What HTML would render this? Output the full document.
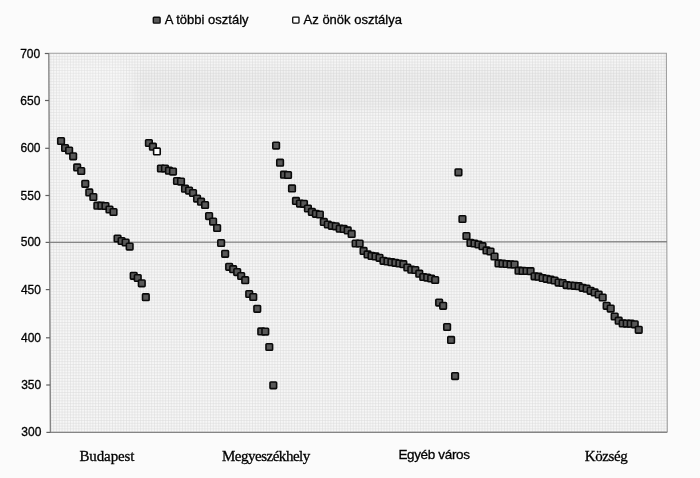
<!DOCTYPE html>
<html><head><meta charset="utf-8"><style>
html,body{margin:0;padding:0;background:#fbfbfb;}
body{width:700px;height:478px;position:relative;overflow:hidden;font-family:"Liberation Sans",sans-serif;color:#000;}
.t{position:absolute;white-space:nowrap;line-height:1;-webkit-text-stroke:0.3px #000;}
.y{font-family:"Liberation Sans",sans-serif;font-size:12px;}
.c{font-family:"Liberation Serif",serif;font-size:15px;}
.l{font-family:"Liberation Sans",sans-serif;font-size:13px;}
svg{position:absolute;left:0;top:0;}
</style></head><body>
<div id="w" style="position:absolute;left:0;top:0;width:700px;height:478px;filter:blur(0.35px)">
<svg width="700" height="478" viewBox="0 0 700 478">
<defs>
<pattern id="g" width="2.8" height="2.8" patternUnits="userSpaceOnUse">
<rect width="2.8" height="2.8" fill="#f6f6f6"/>
<rect width="2.8" height="0.5" fill="#dadada"/>
<rect width="0.5" height="2.8" fill="#dadada"/>
</pattern>
<filter id="bl" x="-20%" y="-50%" width="140%" height="200%"><feGaussianBlur stdDeviation="5"/></filter>
</defs>
<polygon points="48.8,53.2 666.4,53.2 667.3,432.3 50.4,432.4" fill="url(#g)"/>
<g filter="url(#bl)"><rect x="136" y="68" width="525" height="42" fill="#000" opacity="0.024"/>
<rect x="56" y="60" width="68" height="170" fill="#fff" opacity="0.14"/></g>
<path d="M48.8 53.2L666.4 53.2L667.3 432.3" fill="none" stroke="#a0a0a0" stroke-width="1.1"/>
<line x1="49.5" y1="242.4" x2="667" y2="241.7" stroke="#858585" stroke-width="1.4"/>
<path d="M48.8 53.2L50.4 432.4L667.3 432.3" fill="none" stroke="#858585" stroke-width="1.4"/>
<g stroke="#606060" stroke-width="1.2">
<line x1="44.8" y1="53.5" x2="48.8" y2="53.5"/>
<line x1="45.0" y1="100.5" x2="49.0" y2="100.5"/>
<line x1="45.2" y1="148.3" x2="49.2" y2="148.3"/>
<line x1="45.4" y1="195.5" x2="49.4" y2="195.5"/>
<line x1="45.6" y1="242.4" x2="49.6" y2="242.4"/>
<line x1="45.8" y1="289.6" x2="49.8" y2="289.6"/>
<line x1="46.0" y1="337.8" x2="50.0" y2="337.8"/>
<line x1="46.2" y1="385.0" x2="50.2" y2="385.0"/>
<line x1="46.4" y1="432.4" x2="50.4" y2="432.4"/>
</g>
<g stroke="#0a0a0a" stroke-width="1.6">
<rect x="57.75" y="137.70" width="6.6" height="6.6" rx="0.8" fill="#585858"/>
<rect x="61.79" y="144.70" width="6.6" height="6.6" rx="0.8" fill="#585858"/>
<rect x="65.82" y="147.20" width="6.6" height="6.6" rx="0.8" fill="#585858"/>
<rect x="69.86" y="153.00" width="6.6" height="6.6" rx="0.8" fill="#585858"/>
<rect x="73.89" y="164.10" width="6.6" height="6.6" rx="0.8" fill="#585858"/>
<rect x="77.93" y="167.70" width="6.6" height="6.6" rx="0.8" fill="#585858"/>
<rect x="81.97" y="180.50" width="6.6" height="6.6" rx="0.8" fill="#585858"/>
<rect x="86.00" y="189.10" width="6.6" height="6.6" rx="0.8" fill="#585858"/>
<rect x="90.04" y="193.70" width="6.6" height="6.6" rx="0.8" fill="#585858"/>
<rect x="94.07" y="202.40" width="6.6" height="6.6" rx="0.8" fill="#585858"/>
<rect x="98.11" y="202.40" width="6.6" height="6.6" rx="0.8" fill="#585858"/>
<rect x="102.15" y="202.70" width="6.6" height="6.6" rx="0.8" fill="#585858"/>
<rect x="106.18" y="206.20" width="6.6" height="6.6" rx="0.8" fill="#585858"/>
<rect x="110.22" y="208.70" width="6.6" height="6.6" rx="0.8" fill="#585858"/>
<rect x="114.25" y="235.20" width="6.6" height="6.6" rx="0.8" fill="#585858"/>
<rect x="118.29" y="237.70" width="6.6" height="6.6" rx="0.8" fill="#585858"/>
<rect x="122.33" y="239.20" width="6.6" height="6.6" rx="0.8" fill="#585858"/>
<rect x="126.36" y="243.30" width="6.6" height="6.6" rx="0.8" fill="#585858"/>
<rect x="130.40" y="272.50" width="6.6" height="6.6" rx="0.8" fill="#585858"/>
<rect x="134.43" y="274.70" width="6.6" height="6.6" rx="0.8" fill="#585858"/>
<rect x="138.47" y="280.00" width="6.6" height="6.6" rx="0.8" fill="#585858"/>
<rect x="142.51" y="293.90" width="6.6" height="6.6" rx="0.8" fill="#585858"/>
<rect x="145.60" y="139.70" width="6.6" height="6.6" rx="0.8" fill="#585858"/>
<rect x="149.61" y="143.40" width="6.6" height="6.6" rx="0.8" fill="#585858"/>
<rect x="153.63" y="148.10" width="6.6" height="6.6" rx="0.8" fill="#fff"/>
<rect x="157.64" y="165.20" width="6.6" height="6.6" rx="0.8" fill="#585858"/>
<rect x="161.65" y="165.20" width="6.6" height="6.6" rx="0.8" fill="#585858"/>
<rect x="165.66" y="167.40" width="6.6" height="6.6" rx="0.8" fill="#585858"/>
<rect x="169.68" y="168.30" width="6.6" height="6.6" rx="0.8" fill="#585858"/>
<rect x="173.69" y="177.70" width="6.6" height="6.6" rx="0.8" fill="#585858"/>
<rect x="177.70" y="178.30" width="6.6" height="6.6" rx="0.8" fill="#585858"/>
<rect x="181.72" y="185.40" width="6.6" height="6.6" rx="0.8" fill="#585858"/>
<rect x="185.73" y="187.30" width="6.6" height="6.6" rx="0.8" fill="#585858"/>
<rect x="189.74" y="189.70" width="6.6" height="6.6" rx="0.8" fill="#585858"/>
<rect x="193.76" y="195.30" width="6.6" height="6.6" rx="0.8" fill="#585858"/>
<rect x="197.77" y="198.40" width="6.6" height="6.6" rx="0.8" fill="#585858"/>
<rect x="201.78" y="201.70" width="6.6" height="6.6" rx="0.8" fill="#585858"/>
<rect x="205.79" y="212.80" width="6.6" height="6.6" rx="0.8" fill="#585858"/>
<rect x="209.81" y="218.30" width="6.6" height="6.6" rx="0.8" fill="#585858"/>
<rect x="213.82" y="224.70" width="6.6" height="6.6" rx="0.8" fill="#585858"/>
<rect x="217.83" y="239.70" width="6.6" height="6.6" rx="0.8" fill="#585858"/>
<rect x="221.85" y="250.50" width="6.6" height="6.6" rx="0.8" fill="#585858"/>
<rect x="225.86" y="263.50" width="6.6" height="6.6" rx="0.8" fill="#585858"/>
<rect x="229.87" y="265.90" width="6.6" height="6.6" rx="0.8" fill="#585858"/>
<rect x="233.89" y="268.80" width="6.6" height="6.6" rx="0.8" fill="#585858"/>
<rect x="237.90" y="272.70" width="6.6" height="6.6" rx="0.8" fill="#585858"/>
<rect x="241.91" y="276.90" width="6.6" height="6.6" rx="0.8" fill="#585858"/>
<rect x="245.93" y="290.70" width="6.6" height="6.6" rx="0.8" fill="#585858"/>
<rect x="249.94" y="293.70" width="6.6" height="6.6" rx="0.8" fill="#585858"/>
<rect x="253.95" y="305.50" width="6.6" height="6.6" rx="0.8" fill="#585858"/>
<rect x="257.96" y="328.10" width="6.6" height="6.6" rx="0.8" fill="#585858"/>
<rect x="261.98" y="328.30" width="6.6" height="6.6" rx="0.8" fill="#585858"/>
<rect x="265.99" y="343.70" width="6.6" height="6.6" rx="0.8" fill="#585858"/>
<rect x="270.00" y="382.00" width="6.6" height="6.6" rx="0.8" fill="#585858"/>
<rect x="272.80" y="142.30" width="6.6" height="6.6" rx="0.8" fill="#585858"/>
<rect x="276.78" y="159.40" width="6.6" height="6.6" rx="0.8" fill="#585858"/>
<rect x="280.75" y="171.40" width="6.6" height="6.6" rx="0.8" fill="#585858"/>
<rect x="284.73" y="171.70" width="6.6" height="6.6" rx="0.8" fill="#585858"/>
<rect x="288.71" y="185.10" width="6.6" height="6.6" rx="0.8" fill="#585858"/>
<rect x="292.69" y="197.60" width="6.6" height="6.6" rx="0.8" fill="#585858"/>
<rect x="296.66" y="200.30" width="6.6" height="6.6" rx="0.8" fill="#585858"/>
<rect x="300.64" y="200.50" width="6.6" height="6.6" rx="0.8" fill="#585858"/>
<rect x="304.62" y="205.20" width="6.6" height="6.6" rx="0.8" fill="#585858"/>
<rect x="308.59" y="208.60" width="6.6" height="6.6" rx="0.8" fill="#585858"/>
<rect x="312.57" y="210.50" width="6.6" height="6.6" rx="0.8" fill="#585858"/>
<rect x="316.55" y="211.20" width="6.6" height="6.6" rx="0.8" fill="#585858"/>
<rect x="320.52" y="218.60" width="6.6" height="6.6" rx="0.8" fill="#585858"/>
<rect x="324.50" y="221.20" width="6.6" height="6.6" rx="0.8" fill="#585858"/>
<rect x="328.48" y="222.50" width="6.6" height="6.6" rx="0.8" fill="#585858"/>
<rect x="332.45" y="223.00" width="6.6" height="6.6" rx="0.8" fill="#585858"/>
<rect x="336.43" y="225.40" width="6.6" height="6.6" rx="0.8" fill="#585858"/>
<rect x="340.41" y="225.60" width="6.6" height="6.6" rx="0.8" fill="#585858"/>
<rect x="344.39" y="227.10" width="6.6" height="6.6" rx="0.8" fill="#585858"/>
<rect x="348.36" y="230.60" width="6.6" height="6.6" rx="0.8" fill="#585858"/>
<rect x="352.34" y="240.20" width="6.6" height="6.6" rx="0.8" fill="#585858"/>
<rect x="356.32" y="240.20" width="6.6" height="6.6" rx="0.8" fill="#585858"/>
<rect x="360.29" y="247.60" width="6.6" height="6.6" rx="0.8" fill="#585858"/>
<rect x="364.27" y="251.10" width="6.6" height="6.6" rx="0.8" fill="#585858"/>
<rect x="368.25" y="252.60" width="6.6" height="6.6" rx="0.8" fill="#585858"/>
<rect x="372.23" y="253.10" width="6.6" height="6.6" rx="0.8" fill="#585858"/>
<rect x="376.20" y="254.50" width="6.6" height="6.6" rx="0.8" fill="#585858"/>
<rect x="380.18" y="257.50" width="6.6" height="6.6" rx="0.8" fill="#585858"/>
<rect x="384.16" y="258.20" width="6.6" height="6.6" rx="0.8" fill="#585858"/>
<rect x="388.13" y="258.90" width="6.6" height="6.6" rx="0.8" fill="#585858"/>
<rect x="392.11" y="259.50" width="6.6" height="6.6" rx="0.8" fill="#585858"/>
<rect x="396.09" y="260.20" width="6.6" height="6.6" rx="0.8" fill="#585858"/>
<rect x="400.06" y="260.90" width="6.6" height="6.6" rx="0.8" fill="#585858"/>
<rect x="404.04" y="264.20" width="6.6" height="6.6" rx="0.8" fill="#585858"/>
<rect x="408.02" y="266.40" width="6.6" height="6.6" rx="0.8" fill="#585858"/>
<rect x="412.00" y="266.70" width="6.6" height="6.6" rx="0.8" fill="#585858"/>
<rect x="415.97" y="270.40" width="6.6" height="6.6" rx="0.8" fill="#585858"/>
<rect x="419.95" y="273.70" width="6.6" height="6.6" rx="0.8" fill="#585858"/>
<rect x="423.93" y="274.30" width="6.6" height="6.6" rx="0.8" fill="#585858"/>
<rect x="427.90" y="275.20" width="6.6" height="6.6" rx="0.8" fill="#585858"/>
<rect x="431.88" y="276.70" width="6.6" height="6.6" rx="0.8" fill="#585858"/>
<rect x="435.86" y="299.30" width="6.6" height="6.6" rx="0.8" fill="#585858"/>
<rect x="439.83" y="302.50" width="6.6" height="6.6" rx="0.8" fill="#585858"/>
<rect x="443.81" y="323.70" width="6.6" height="6.6" rx="0.8" fill="#585858"/>
<rect x="447.79" y="336.60" width="6.6" height="6.6" rx="0.8" fill="#585858"/>
<rect x="451.77" y="372.80" width="6.6" height="6.6" rx="0.8" fill="#585858"/>
<rect x="455.15" y="169.00" width="6.6" height="6.6" rx="0.8" fill="#585858"/>
<rect x="459.16" y="215.70" width="6.6" height="6.6" rx="0.8" fill="#585858"/>
<rect x="463.16" y="232.70" width="6.6" height="6.6" rx="0.8" fill="#585858"/>
<rect x="467.17" y="239.60" width="6.6" height="6.6" rx="0.8" fill="#585858"/>
<rect x="471.17" y="240.20" width="6.6" height="6.6" rx="0.8" fill="#585858"/>
<rect x="475.18" y="241.20" width="6.6" height="6.6" rx="0.8" fill="#585858"/>
<rect x="479.19" y="242.90" width="6.6" height="6.6" rx="0.8" fill="#585858"/>
<rect x="483.19" y="247.10" width="6.6" height="6.6" rx="0.8" fill="#585858"/>
<rect x="487.20" y="248.20" width="6.6" height="6.6" rx="0.8" fill="#585858"/>
<rect x="491.20" y="253.20" width="6.6" height="6.6" rx="0.8" fill="#585858"/>
<rect x="495.21" y="260.10" width="6.6" height="6.6" rx="0.8" fill="#585858"/>
<rect x="499.22" y="260.40" width="6.6" height="6.6" rx="0.8" fill="#585858"/>
<rect x="503.22" y="260.70" width="6.6" height="6.6" rx="0.8" fill="#585858"/>
<rect x="507.23" y="261.10" width="6.6" height="6.6" rx="0.8" fill="#585858"/>
<rect x="511.23" y="261.20" width="6.6" height="6.6" rx="0.8" fill="#585858"/>
<rect x="515.24" y="267.40" width="6.6" height="6.6" rx="0.8" fill="#585858"/>
<rect x="519.25" y="267.60" width="6.6" height="6.6" rx="0.8" fill="#585858"/>
<rect x="523.25" y="267.70" width="6.6" height="6.6" rx="0.8" fill="#585858"/>
<rect x="527.26" y="267.90" width="6.6" height="6.6" rx="0.8" fill="#585858"/>
<rect x="531.26" y="273.00" width="6.6" height="6.6" rx="0.8" fill="#585858"/>
<rect x="535.27" y="273.40" width="6.6" height="6.6" rx="0.8" fill="#585858"/>
<rect x="539.28" y="274.70" width="6.6" height="6.6" rx="0.8" fill="#585858"/>
<rect x="543.28" y="275.50" width="6.6" height="6.6" rx="0.8" fill="#585858"/>
<rect x="547.29" y="276.40" width="6.6" height="6.6" rx="0.8" fill="#585858"/>
<rect x="551.29" y="277.20" width="6.6" height="6.6" rx="0.8" fill="#585858"/>
<rect x="555.30" y="279.30" width="6.6" height="6.6" rx="0.8" fill="#585858"/>
<rect x="559.31" y="279.70" width="6.6" height="6.6" rx="0.8" fill="#585858"/>
<rect x="563.31" y="281.80" width="6.6" height="6.6" rx="0.8" fill="#585858"/>
<rect x="567.32" y="282.20" width="6.6" height="6.6" rx="0.8" fill="#585858"/>
<rect x="571.32" y="282.50" width="6.6" height="6.6" rx="0.8" fill="#585858"/>
<rect x="575.33" y="282.90" width="6.6" height="6.6" rx="0.8" fill="#585858"/>
<rect x="579.34" y="284.50" width="6.6" height="6.6" rx="0.8" fill="#585858"/>
<rect x="583.34" y="285.40" width="6.6" height="6.6" rx="0.8" fill="#585858"/>
<rect x="587.35" y="287.50" width="6.6" height="6.6" rx="0.8" fill="#585858"/>
<rect x="591.35" y="289.10" width="6.6" height="6.6" rx="0.8" fill="#585858"/>
<rect x="595.36" y="291.20" width="6.6" height="6.6" rx="0.8" fill="#585858"/>
<rect x="599.37" y="294.20" width="6.6" height="6.6" rx="0.8" fill="#585858"/>
<rect x="603.37" y="302.50" width="6.6" height="6.6" rx="0.8" fill="#585858"/>
<rect x="607.38" y="305.30" width="6.6" height="6.6" rx="0.8" fill="#585858"/>
<rect x="611.38" y="313.20" width="6.6" height="6.6" rx="0.8" fill="#585858"/>
<rect x="615.39" y="317.40" width="6.6" height="6.6" rx="0.8" fill="#585858"/>
<rect x="619.40" y="320.10" width="6.6" height="6.6" rx="0.8" fill="#585858"/>
<rect x="623.40" y="320.30" width="6.6" height="6.6" rx="0.8" fill="#585858"/>
<rect x="627.41" y="320.40" width="6.6" height="6.6" rx="0.8" fill="#585858"/>
<rect x="631.41" y="321.00" width="6.6" height="6.6" rx="0.8" fill="#585858"/>
<rect x="635.42" y="326.50" width="6.6" height="6.6" rx="0.8" fill="#585858"/>
</g>
<rect x="153.3" y="17.2" width="6.8" height="5.9" rx="0.8" fill="#585858" stroke="#0a0a0a" stroke-width="1.4"/>
<rect x="292.7" y="17.1" width="6.3" height="6.0" rx="0.8" fill="#fff" stroke="#0a0a0a" stroke-width="1.3"/>
</svg>
<div class="t l" style="left:164.7px;top:13px">A többi osztály</div>
<div class="t l" style="left:303.6px;top:13px">Az önök osztálya</div>
<div class="t y" style="left:20.20px;top:47.5px">700</div>
<div class="t y" style="left:20.34px;top:94.5px">650</div>
<div class="t y" style="left:20.47px;top:142.3px">600</div>
<div class="t y" style="left:20.61px;top:189.5px">550</div>
<div class="t y" style="left:20.75px;top:236.4px">500</div>
<div class="t y" style="left:20.89px;top:283.6px">450</div>
<div class="t y" style="left:21.02px;top:331.8px">400</div>
<div class="t y" style="left:21.16px;top:379.0px">350</div>
<div class="t y" style="left:21.30px;top:426.4px">300</div>
<div class="t c" style="left:79.4px;top:449px;letter-spacing:-0.1px">Budapest</div>
<div class="t c" style="left:221.9px;top:449px;letter-spacing:-0.48px">Megyeszékhely</div>
<div class="t l" style="left:398.4px;top:447.8px;font-size:13.5px;letter-spacing:-0.35px">Egyéb város</div>
<div class="t c" style="left:584.8px;top:449px;letter-spacing:-0.4px">Község</div>
</div>
</body></html>
